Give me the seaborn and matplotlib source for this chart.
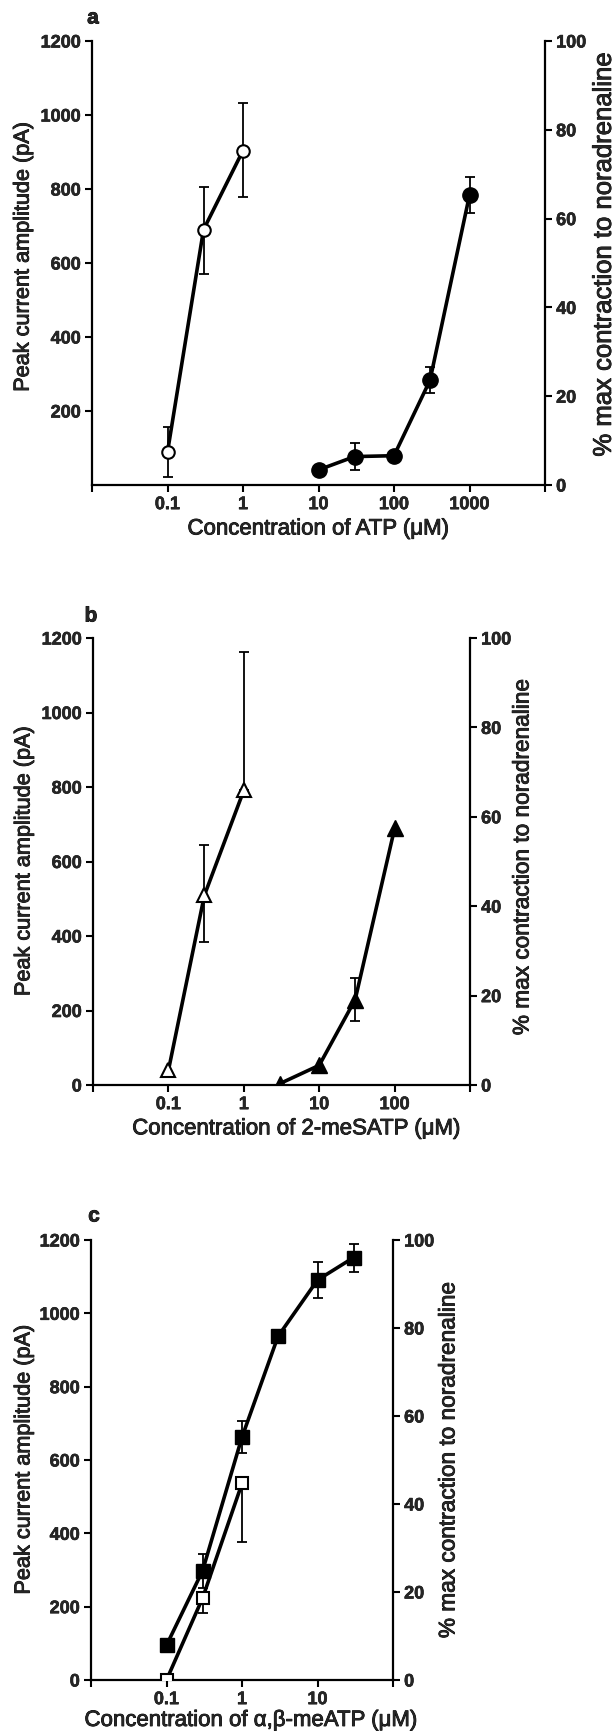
import numpy as np
import matplotlib
matplotlib.use("Agg")
import matplotlib.pyplot as plt
import matplotlib.patheffects as pe
import seaborn as sns
from matplotlib.ticker import NullLocator

# panel a - ATP
atp_conc_open = [0.1, 0.3, 1]
atp_current = [89, 690, 904]
atp_current_err_lo = [68, 120, 126]
atp_current_err_hi = [68, 116, 128]
atp_conc_filled = [10, 30, 100, 300, 1000]
atp_contraction = [3.4, 6.4, 6.6, 23.6, 65.3]
atp_contraction_err = [0, 3.1, 0, 2.9, 4.0]

# panel b - 2-meSATP
mes_conc_open = [0.1, 0.3, 1]
mes_current = [39, 509, 791]
mes_current_err_lo = [0, 124, 0]
mes_current_err_hi = [0, 136, 372]
mes_conc_filled = [3, 10, 30, 100]
mes_contraction = [0.3, 4.4, 19.1, 57.4]
mes_contraction_err = [0, 0, 4.8, 0]

# panel c - alpha,beta-meATP
ab_conc_open = [0.1, 0.3, 1]
ab_current = [0, 223, 536]
ab_current_err_lo = [0, 41, 159]
ab_current_err_hi = [0, 0, 0]
ab_conc_filled = [0.1, 0.3, 1, 3, 10, 30]
ab_contraction = [7.9, 24.8, 55.2, 78.1, 90.9, 96.0]
ab_contraction_err = [0, 3.9, 3.6, 0, 4.0, 3.2]

conc_ticks = [0.1, 1, 10, 100, 1000]
conc_tick_labels = ["0.1", "1", "10", "100", "1000"]
current_ticks = [0, 200, 400, 600, 800, 1000, 1200]
contraction_ticks = [0, 20, 40, 60, 80, 100]

left_label = "Peak current amplitude (pA)"
right_label = "% max contraction to noradrenaline"
x_labels = ["Concentration of ATP (μM)",
            "Concentration of 2-meSATP (μM)",
            "Concentration of α,β-meATP (μM)"]

sns.set_style("ticks")
plt.rcParams["font.family"] = ["Liberation Sans", "DejaVu Sans"]

W, H = 614, 1733
fig = plt.figure(figsize=(W / 100, H / 100), dpi=100)

# scanned print looks a bit heavier than plain text
heavy = [pe.withStroke(linewidth=0.6, foreground="black")]
heavy_ticks = [pe.withStroke(linewidth=0.4, foreground="black")]


def px_rect(left, top, right, bottom):
    return [left / W, 1 - bottom / H, (right - left) / W, (bottom - top) / H]


def add_errors(ax, x, y, lo, hi):
    x, y, lo, hi = map(np.asarray, (x, y, lo, hi))
    keep = (lo > 0) | (hi > 0)
    ax.errorbar(x[keep], y[keep], yerr=[lo[keep], hi[keep]], fmt="none",
                ecolor="black", elinewidth=1.3, capsize=3.5, capthick=1.3, zorder=1)


def style_axis(ax, side):
    ax.tick_params(axis="both", which="major", direction="out", length=5, width=1.5,
                   pad=3, labelsize=13, color="black")
    for lab in ax.get_xticklabels() + ax.get_yticklabels():
        lab.set_fontweight("bold")
        lab.set_path_effects(heavy_ticks)
    for name, sp in ax.spines.items():
        sp.set_linewidth(1.6)
        sp.set_color("black")
        sp.set_visible(name in side)


def panel(rect, xlim, n_xticks, left_ticks, xlabel, xlabel_pos, ylabel_pos, rlabel_pos, rlabel_size,
          open_x, open_y, open_lo, open_hi, fill_x, fill_y, fill_err,
          marker, open_ms, fill_ms, letter, letter_xy):
    ax = fig.add_axes(px_rect(*rect))
    ax.set_xscale("log")

    add_errors(ax, open_x, open_y, open_lo, open_hi)
    sns.lineplot(x=open_x, y=open_y, ax=ax, color="black", lw=2.6, marker=marker,
                 markersize=open_ms, markerfacecolor="white", markeredgecolor="black",
                 markeredgewidth=1.5, errorbar=None, zorder=3)

    ax2 = ax.twinx()
    add_errors(ax2, fill_x, fill_y, fill_err, fill_err)
    sns.lineplot(x=fill_x, y=fill_y, ax=ax2, color="black", lw=2.6, marker=marker,
                 markersize=fill_ms, markerfacecolor="black", markeredgecolor="black",
                 markeredgewidth=1.0, errorbar=None, zorder=3)

    ax.set_xlim(*xlim)
    ax.set_ylim(0, 1200)
    ax2.set_ylim(0, 100)

    ticks = [xlim[0]] + conc_ticks[:n_xticks] + [xlim[1]]
    labels = [""] + conc_tick_labels[:n_xticks] + [""]
    ax.set_xticks(ticks)
    ax.set_xticklabels(labels)
    ax.xaxis.set_minor_locator(NullLocator())
    ax.set_yticks(left_ticks)
    ax.set_yticklabels([str(t) for t in left_ticks])
    ax2.set_yticks(contraction_ticks)
    ax2.set_yticklabels([str(t) for t in contraction_ticks])

    style_axis(ax, ("left", "bottom"))
    style_axis(ax2, ("right",))

    ax.set_xlabel(xlabel, fontsize=16, va="center", path_effects=heavy)
    ax.xaxis.set_label_coords(*xlabel_pos)
    ax.set_ylabel(left_label, fontsize=15.6, va="center", path_effects=heavy)
    ax.yaxis.set_label_coords(*ylabel_pos)
    ax2.set_ylabel(right_label, fontsize=rlabel_size, va="center", rotation=90, path_effects=heavy)
    ax2.yaxis.set_label_coords(*rlabel_pos)

    fig.text(letter_xy[0] / W, 1 - letter_xy[1] / H, letter, fontsize=15,
             fontweight="bold", ha="center", va="center", path_effects=heavy)


panel((92, 42, 545, 486), (0.01, 10000), 5, current_ticks[1:], x_labels[0],
      (0.50, -0.099), (-0.152, 0.513), (1.130, 0.52), 18.5,
      atp_conc_open, atp_current, atp_current_err_lo, atp_current_err_hi,
      atp_conc_filled, atp_contraction, atp_contraction_err,
      "o", 9, 11, "a", (93, 19))

panel((93, 639, 470, 1086), (0.01, 1000), 4, current_ticks, x_labels[1],
      (0.54, -0.098), (-0.183, 0.5), (1.138, 0.51), 16.3,
      mes_conc_open, mes_current, mes_current_err_lo, mes_current_err_hi,
      mes_conc_filled, mes_contraction, mes_contraction_err,
      "^", 10, 11, "b", (91, 617))

panel((91, 1241, 393, 1681), (0.01, 100), 3, current_ticks, x_labels[2],
      (0.53, -0.092), (-0.222, 0.5), (1.182, 0.5), 16.3,
      ab_conc_open, ab_current, ab_current_err_lo, ab_current_err_hi,
      ab_conc_filled, ab_contraction, ab_contraction_err,
      "s", 9, 10.5, "c", (94, 1217))

fig.savefig("out.png", dpi=100)
